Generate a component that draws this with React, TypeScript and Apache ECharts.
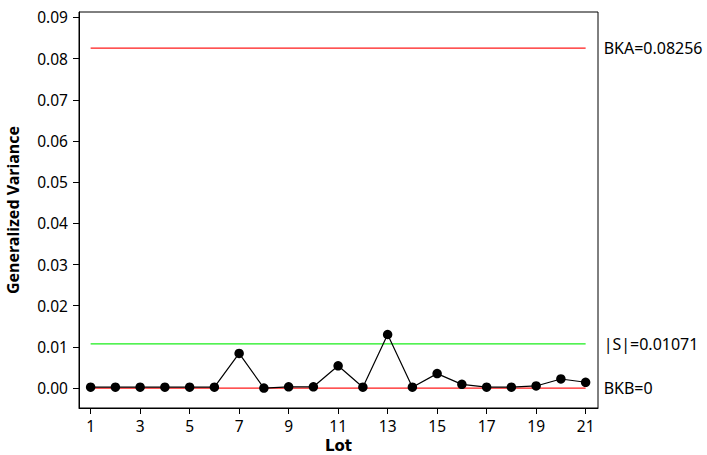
import React, { useEffect, useRef } from "react";
import * as echarts from "echarts";

const lots = [1, 2, 3, 4, 5, 6, 7, 8, 9, 10, 11, 12, 13, 14, 15, 16, 17, 18, 19, 20, 21];
const genVariance = [0.0002, 0.0002, 0.0002, 0.0002, 0.0002, 0.0002, 0.0084, 0.0000, 0.0003, 0.0003, 0.0054, 0.0002, 0.0130, 0.0002, 0.0035, 0.0009, 0.0002, 0.0002, 0.0005, 0.0022, 0.0014];
const xTicks = [1, 3, 5, 7, 9, 11, 13, 15, 17, 19, 21];
const yTicks = [0, 0.01, 0.02, 0.03, 0.04, 0.05, 0.06, 0.07, 0.08, 0.09];
const limitNames = ["BKA", "|S|", "BKB"];
const limitValues = [0.08256, 0.01071, 0];
const limitLabels = ["BKA=0.08256", "|S|=0.01071", "BKB=0"];
const limitColors = ["#ff1a1a", "#1aee1a", "#ff1a1a"];

const FONT = "Noto Sans";

export default function App() {
  const ref = useRef<HTMLDivElement>(null);
  useEffect(() => {
    const chart = echarts.init(ref.current!, null, { renderer: "svg" });
    const first = lots[0];
    const last = lots[lots.length - 1];
    const limitSeries = limitValues.map((v, i) => ({
      type: "line",
      name: limitNames[i],
      data: [[first, v], [last, v]],
      symbol: "none",
      lineStyle: { color: limitColors[i], width: 1.2 },
      silent: true,
      z: 1,
      endLabel: {
        show: true,
        formatter: limitLabels[i],
        distance: 18,
        color: "#000",
        fontFamily: FONT,
        fontSize: 16,
      },
    }));
    chart.setOption({
      animation: false,
      backgroundColor: "#fff",
      grid: {
        left: 79,
        right: 109,
        top: 12,
        bottom: 47,
        outerBoundsMode: "none",
        containLabel: false,
        show: true,
        borderColor: "#000",
        borderWidth: 1,
        backgroundColor: "transparent",
      },
      xAxis: {
        type: "value",
        min: 0.53,
        max: 21.5,
        name: "Lot",
        nameLocation: "middle",
        nameGap: 28,
        nameTextStyle: { fontFamily: "DejaVu Sans", fontSize: 15, lineHeight: 15, fontWeight: "bold", color: "#000" },
        axisLine: { show: true, onZero: false, lineStyle: { color: "#000" } },
        axisTick: { show: true, customValues: xTicks, length: 6, lineStyle: { color: "#000" } },
        axisLabel: {
          customValues: xTicks,
          fontFamily: FONT,
          fontSize: 15.5,
          color: "#000",
          margin: 10,
        },
        splitLine: { show: false },
      },
      yAxis: {
        type: "value",
        min: -0.00485,
        max: 0.09133,
        name: "Generalized Variance",
        nameLocation: "middle",
        nameGap: 58,
        nameTextStyle: { fontFamily: FONT, fontSize: 16, fontWeight: "bold", color: "#000" },
        axisLine: { show: true, onZero: false, lineStyle: { color: "#000" } },
        axisTick: { show: true, customValues: yTicks, length: 6, lineStyle: { color: "#000" } },
        axisLabel: {
          customValues: yTicks,
          formatter: (v: number) => v.toFixed(2),
          fontFamily: FONT,
          fontSize: 15.5,
          color: "#000",
          margin: 11,
        },
        splitLine: { show: false },
      },
      series: [
        ...limitSeries,
        {
          type: "line",
          name: "Generalized Variance",
          data: lots.map((l, i) => [l, genVariance[i]]),
          symbol: "circle",
          symbolSize: 9.5,
          itemStyle: { color: "#000" },
          lineStyle: { color: "#000", width: 1.2 },
          z: 3,
        },
      ],
    });
    return () => chart.dispose();
  }, []);
  return (
    <div
      ref={ref}
      style={{ position: "fixed", left: 0, top: 0, width: 707, height: 455, background: "#fff" }}
    />
  );
}
